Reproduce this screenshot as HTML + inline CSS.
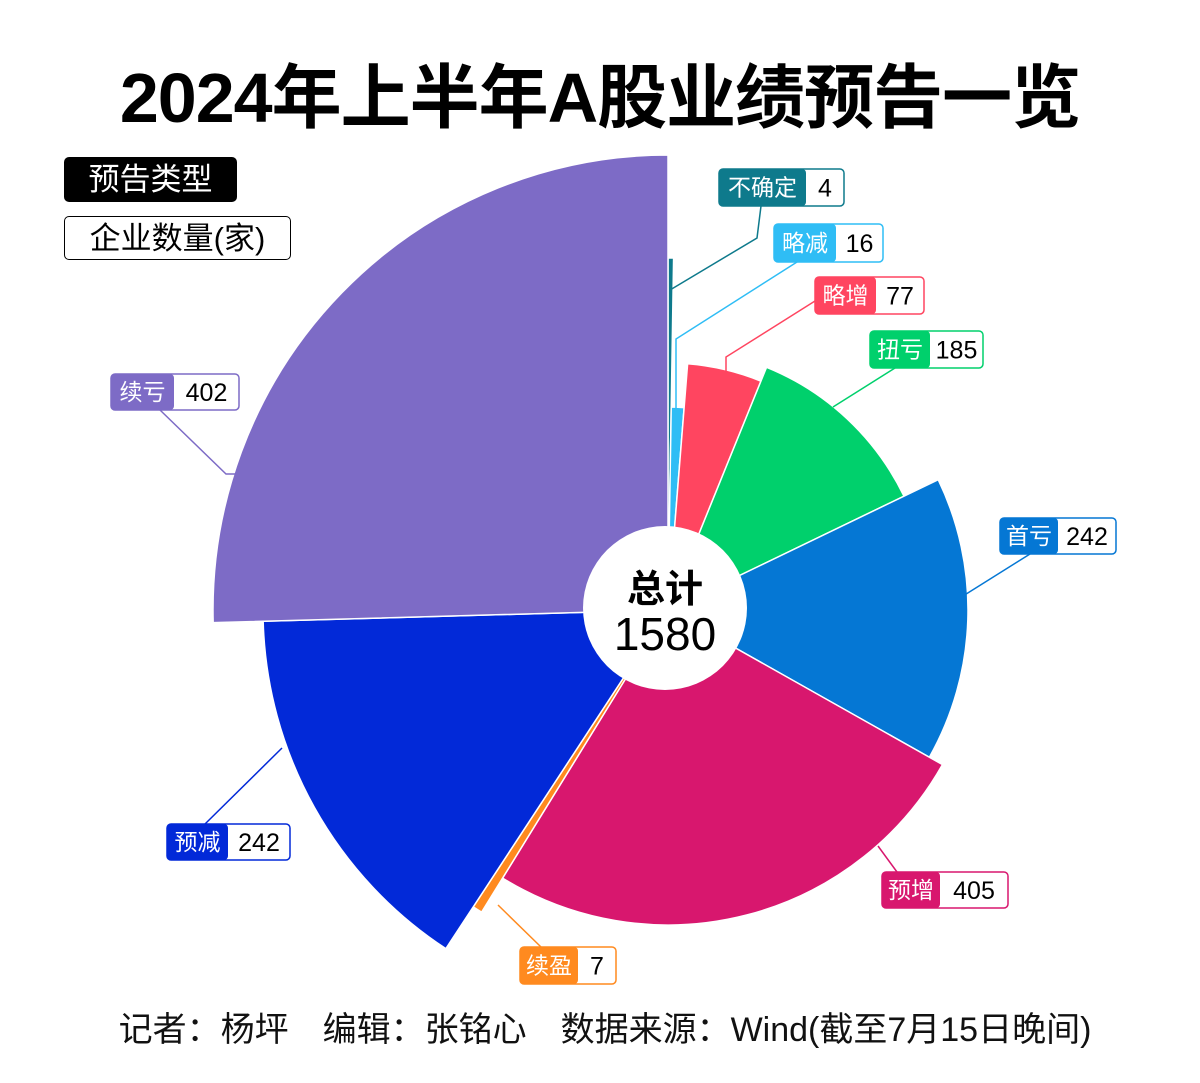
<!DOCTYPE html>
<html><head><meta charset="utf-8">
<style>
body{margin:0;background:#fff;}
#wrap{position:relative;width:1200px;height:1083px;overflow:hidden;font-family:"Liberation Sans","Noto Sans CJK SC",sans-serif;}
.title{position:absolute;left:0;width:1200px;top:42px;text-align:center;font-size:70px;font-weight:bold;color:#000;letter-spacing:-1px;}
.foot{position:absolute;left:0;width:1210px;top:1002px;text-align:center;font-size:34px;color:#111;}
.lg1{position:absolute;left:64px;top:157px;width:173px;height:45px;background:#000;color:#fff;border-radius:5px;font-size:31px;line-height:45px;text-align:center;}
.lg2{position:absolute;left:64px;top:216px;width:227px;height:44px;border:1px solid #000;border-radius:5px;font-size:31px;line-height:44px;text-align:center;box-sizing:border-box;}
</style></head><body>
<div id="wrap">
<div class="title">2024年上半年A股业绩预告一览</div>
<div class="lg1">预告类型</div>
<div class="lg2">企业数量(家)</div>
<svg id="svg" width="1200" height="1083" style="position:absolute;left:0;top:0"></svg>
<div class="foot">记者：杨坪　编辑：张铭心　数据来源：Wind(截至7月15日晚间)</div>
</div>
<script>
const categories = ["不确定","略减","略增","扭亏","首亏","预增","续盈","预减","续亏"];
const values = [4,16,77,185,242,405,7,242,402];
const colors = ["#0e7a8c","#2fbdf5","#ff4560","#00d06c","#0577d4","#d8176e","#ff8a1f","#0229d8","#7d6bc6"];
const radii = [352,203,247,262,300,315,355,405,455];
const labelBoxes = [[719,169,125,37,87],[774,224,109,38,62],[815,277,109,37,61],[870,331,113,37,60],[1000,518,116,36,58],[882,872,126,36,58],[520,947,96,37,58],[167,824,123,36,61],[111,374,128,36,63]];
const leaders = [[[670,290],[757,238],[761,206]],[[676,412],[676,339],[797,262]],[[726,374],[726,357],[815,301]],[[833,407],[895,368]],[[963,596],[1030,554]],[[878,846],[897,872]],[[498,905],[541,947]],[[282,748],[205,824]],[[236,474],[226,474],[160,410]]];
const cx=668, cy=610;
const NS="http://www.w3.org/2000/svg";
const svg=document.getElementById('svg');
const total=values.reduce((a,b)=>a+b,0);
function angleScale(v){return v/total*2*Math.PI;}
function pt(a,r){return [cx+r*Math.sin(a), cy-r*Math.cos(a)];}
let acc=0;
values.forEach((v,i)=>{
  const a0=angleScale(acc), a1=angleScale(acc+v); acc+=v;
  const r=radii[i];
  const p0=pt(a0,r), p1=pt(a1,r);
  const large=(a1-a0)>Math.PI?1:0;
  const p=document.createElementNS(NS,'path');
  p.setAttribute('d',`M${cx},${cy}L${p0[0]},${p0[1]}A${r},${r} 0 ${large} 1 ${p1[0]},${p1[1]}Z`);
  p.setAttribute('fill',colors[i]);
  p.setAttribute('stroke','#fff');
  p.setAttribute('stroke-width','1.5');
  
  
  svg.appendChild(p);
});
const c=document.createElementNS(NS,'circle');
c.setAttribute('cx',665);c.setAttribute('cy',608);c.setAttribute('r',82);c.setAttribute('fill','#fff');


svg.appendChild(c);
function txt(x,y,s,size,fill,weight,name){
  const t=document.createElementNS(NS,'text');
  t.setAttribute('x',x);t.setAttribute('y',y);t.setAttribute('font-size',size);t.setAttribute('fill',fill);
  t.setAttribute('text-anchor','middle');t.setAttribute('font-weight',weight);
  t.setAttribute('font-family','"Liberation Sans","Noto Sans CJK SC",sans-serif');
  t.textContent=s;
  
  
  svg.appendChild(t);
}
txt(665,602,'总计',38,'#000','bold','total-label');
txt(665,650,String(total),46,'#000','normal','total-value');
categories.forEach((name,i)=>{
  const pl=document.createElementNS(NS,'polyline');
  pl.setAttribute('points',leaders[i].map(p=>p.join(',')).join(' '));
  pl.setAttribute('fill','none');pl.setAttribute('stroke',colors[i]);pl.setAttribute('stroke-width','1.5');
  
  
  svg.appendChild(pl);
  const [x,y,w,h,cw]=labelBoxes[i];
  const g=document.createElementNS(NS,'g');
  
  
  const r1=document.createElementNS(NS,'rect');
  r1.setAttribute('x',x);r1.setAttribute('y',y);r1.setAttribute('width',w);r1.setAttribute('height',h);
  r1.setAttribute('rx',4);r1.setAttribute('fill','#fff');r1.setAttribute('stroke',colors[i]);r1.setAttribute('stroke-width','1.5');
  g.appendChild(r1);
  const r2=document.createElementNS(NS,'rect');
  r2.setAttribute('x',x);r2.setAttribute('y',y);r2.setAttribute('width',cw);r2.setAttribute('height',h);
  r2.setAttribute('rx',4);r2.setAttribute('fill',colors[i]);
  g.appendChild(r2);
  svg.appendChild(g);
  txt(x+cw/2,y+h/2+8,name,23,'#fff','normal','label-name-'+name);
  txt(x+cw+(w-cw)/2,y+h/2+9,String(values[i]),25,'#000','normal','label-value-'+name);
});
</script>
</body></html>
